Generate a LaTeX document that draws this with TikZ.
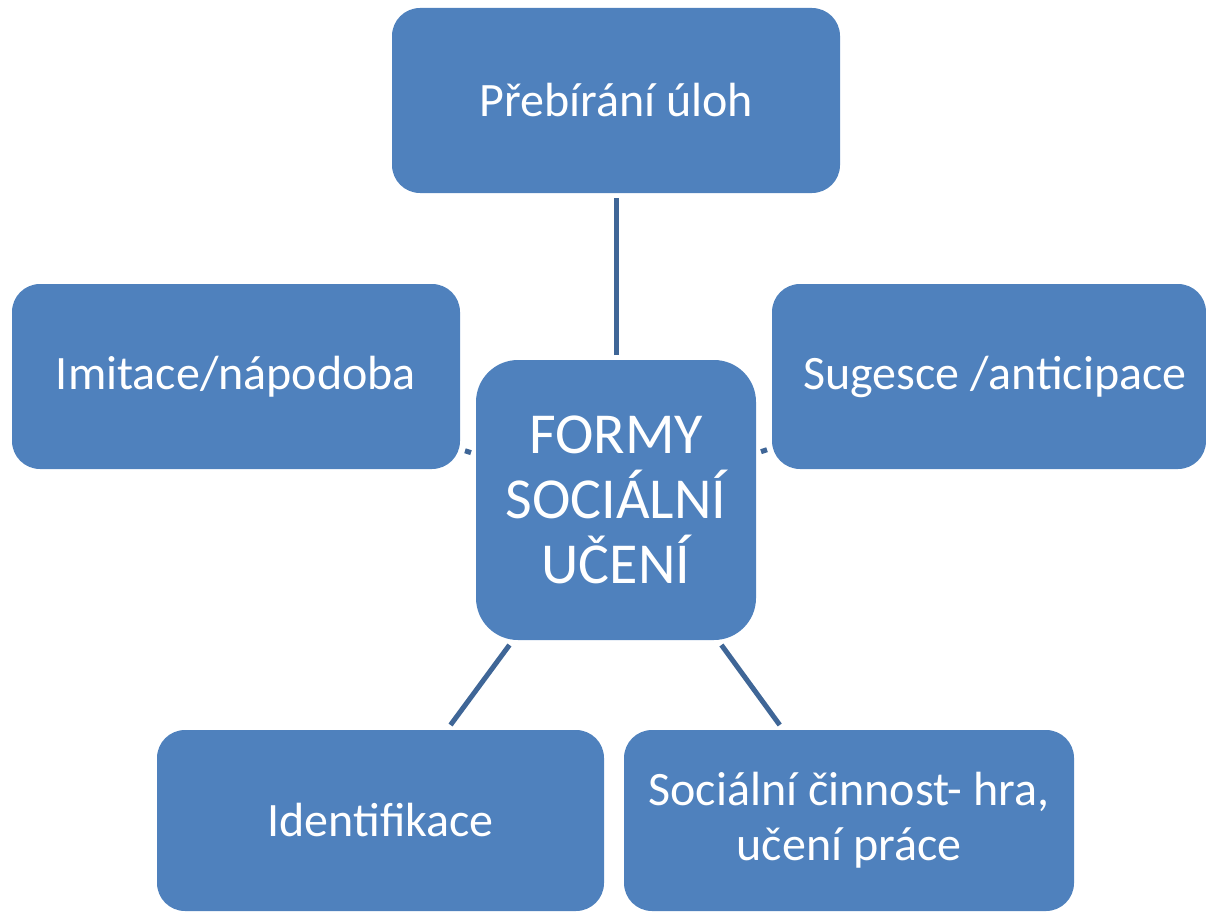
\documentclass[tikz,border=0pt]{standalone}
\usepackage{fontspec}
\setmainfont{Carlito}
\definecolor{boxblue}{HTML}{4F81BD}
\definecolor{lineblue}{HTML}{3F6697}
\begin{document}
\begin{tikzpicture}[x=1pt,y=-1pt,
  box/.style={rectangle, rounded corners=28pt, fill=boxblue, text=white,
    inner sep=0pt, outer sep=5pt, align=center,
    font=\fontsize{48}{55}\selectfont},
  hub/.style={box, rounded corners=42pt, minimum width=280pt, minimum height=280pt,
    font=\fontsize{58}{65}\selectfont},
  conn/.style={draw=lineblue, line width=5pt}]
\useasboundingbox (0,0) rectangle (1206,912);
\node[hub] (c) at (616,500) {FORMY\\SOCIÁLNÍ\\UČENÍ};
\node[box, minimum width=448pt, minimum height=185pt] (top) at (616,100.5) {Přebírání úloh};
\node[box, minimum width=448pt, minimum height=185pt] (left) at (236,376.5) {Imitace/nápodoba};
\node[box, minimum width=434pt, minimum height=185pt] (right) at (989,376.5) {\hspace*{12pt}Sugesce /anticipace};
\node[box, minimum width=447pt, minimum height=181pt] (bl) at (380.5,820.5) {Identifikace};
\node[box, minimum width=450pt, minimum height=181pt] (br) at (849,820.5) {Sociální činnost- hra,\\učení práce};
\draw[conn] (c) -- (top);
\draw[conn] (c) -- (left);
\draw[conn] (c) -- (right);
\draw[conn] (c) -- (bl);
\draw[conn] (c) -- (br);
\end{tikzpicture}
\end{document}
